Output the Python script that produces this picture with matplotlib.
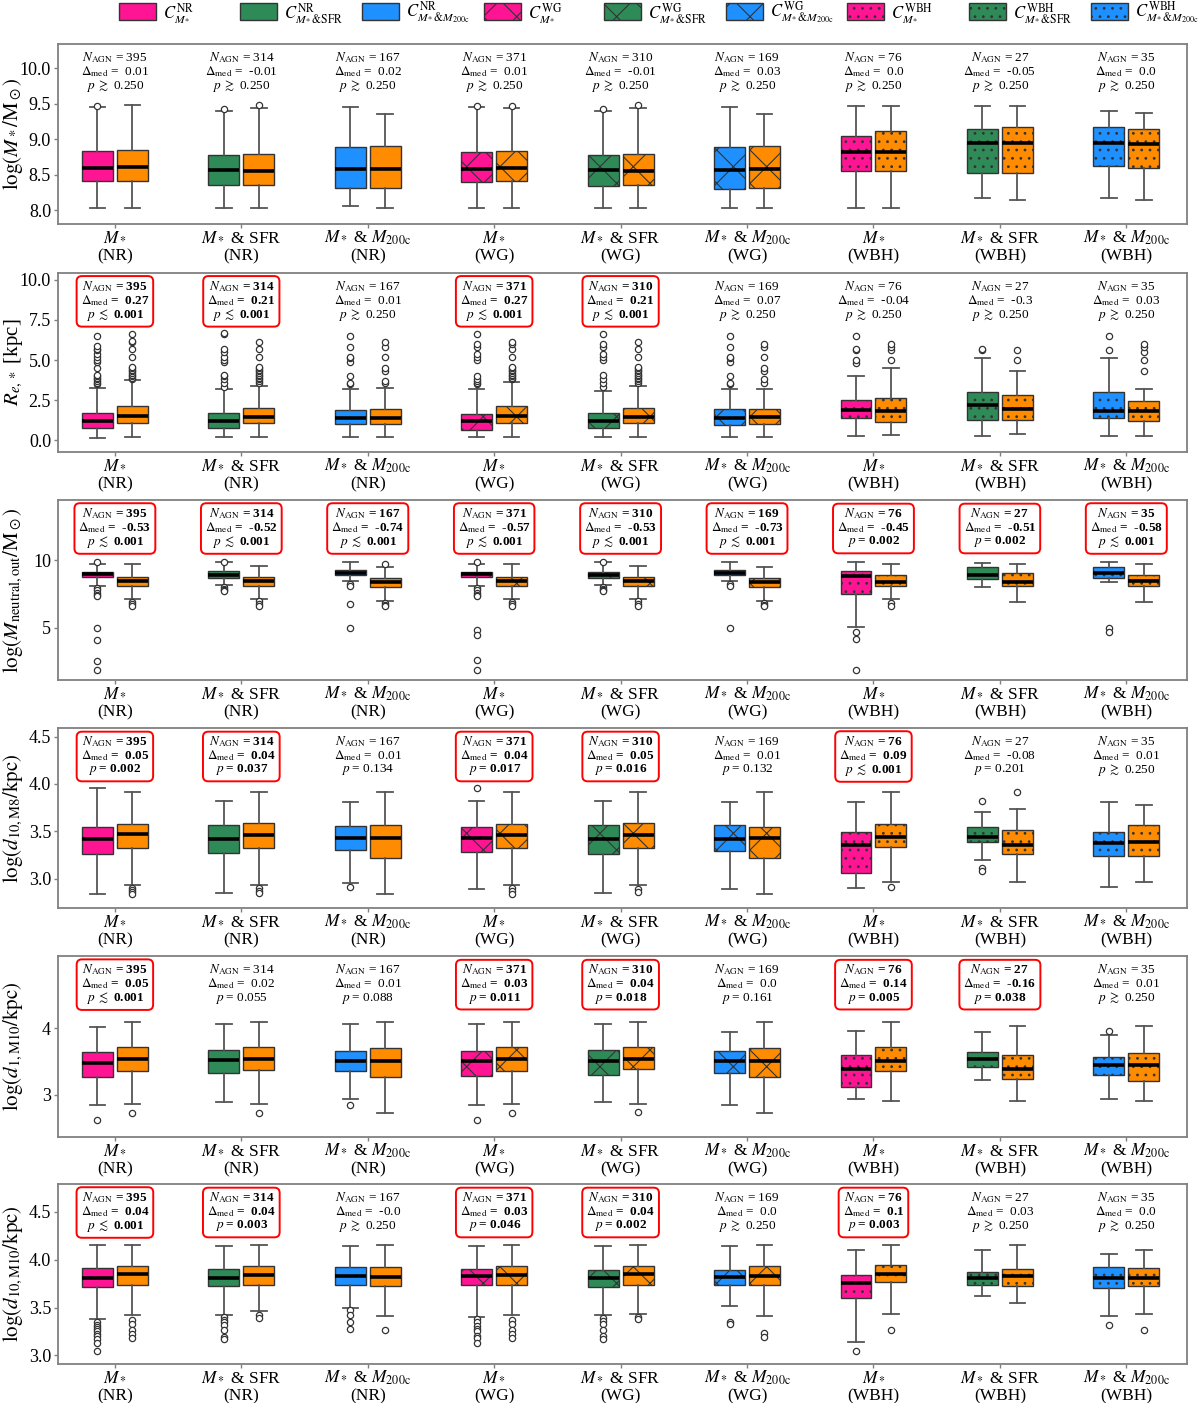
import matplotlib
matplotlib.use("Agg")
import matplotlib.pyplot as plt
import matplotlib.transforms as mtransforms
from matplotlib.patches import Patch

plt.rcParams['font.family'] = ['Liberation Serif', 'DejaVu Serif']
plt.rcParams['mathtext.fontset'] = 'stix'
plt.rcParams['hatch.linewidth'] = 0.8

# ---- categories -------------------------------------------------------------
tick_labels = [r"$M_*$", r"$M_*$ & SFR", r"$M_*$ & $M_{\rm 200c}$"] * 3
sim_labels = ["(NR)", "(NR)", "(NR)", "(WG)", "(WG)", "(WG)", "(WBH)", "(WBH)", "(WBH)"]
legend_labels = [
    r"$C^{\rm NR}_{M_*}$", r"$C^{\rm NR}_{M_*&{\rm SFR}}$", r"$C^{\rm NR}_{M_*&M_{\rm 200c}}$",
    r"$C^{\rm WG}_{M_*}$", r"$C^{\rm WG}_{M_*&{\rm SFR}}$", r"$C^{\rm WG}_{M_*&M_{\rm 200c}}$",
    r"$C^{\rm WBH}_{M_*}$", r"$C^{\rm WBH}_{M_*&{\rm SFR}}$", r"$C^{\rm WBH}_{M_*&M_{\rm 200c}}$",
]
ctrl_colors = ["#FF1493", "#2E8B57", "#1E90FF"] * 3
hatches = ["", "", "", "x", "x", "x", "..", "..", ".."]
agn_color = "#FF8C00"

n_agn = [395, 314, 167, 371, 310, 169, 76, 27, 35]

# ---- panel 1: stellar mass  (whislo, q1, med, q3, whishi) ----------------------
mstar_ctrl = [
    [8.03, 8.41, 8.60, 8.83, 9.45], [8.03, 8.36, 8.57, 8.78, 9.40], [8.06, 8.31, 8.58, 8.89, 9.45],
    [8.03, 8.40, 8.59, 8.82, 9.45], [8.03, 8.35, 8.57, 8.78, 9.40], [8.03, 8.30, 8.57, 8.89, 9.45],
    [8.03, 8.55, 8.82, 9.05, 9.47], [8.18, 8.53, 8.95, 9.15, 9.47], [8.18, 8.62, 8.95, 9.18, 9.40],
]
mstar_agn = [
    [8.03, 8.42, 8.61, 8.85, 9.48], [8.03, 8.36, 8.56, 8.80, 9.44], [8.03, 8.32, 8.59, 8.91, 9.35],
    [8.03, 8.41, 8.60, 8.83, 9.44], [8.03, 8.36, 8.56, 8.80, 9.44], [8.03, 8.32, 8.59, 8.90, 9.35],
    [8.03, 8.55, 8.82, 9.12, 9.47], [8.15, 8.53, 8.95, 9.17, 9.47], [8.15, 8.60, 8.93, 9.15, 9.37],
]
mstar_ctrl_out = [[9.47], [9.43], [], [9.47], [9.43], [], [], [], []]
mstar_agn_out = [[], [9.48], [], [9.47], [9.48], [], [], [], []]
mstar_dmed = ["0.01", "-0.01", "0.02", "0.01", "-0.01", "0.03", "0.0", "-0.05", "0.0"]
mstar_p = [0.25, 0.25, 0.25, 0.25, 0.25, 0.25, 0.25, 0.25, 0.25]

# ---- panel 2: effective radius ---------------------------------------------
re_ctrl = [
    [0.16, 0.76, 1.24, 1.73, 3.27], [0.20, 0.76, 1.24, 1.73, 3.20], [0.20, 1.00, 1.39, 1.89, 3.17],
    [0.20, 0.66, 1.20, 1.67, 3.23], [0.20, 0.76, 1.24, 1.73, 3.05], [0.20, 0.96, 1.37, 1.93, 3.17],
    [0.26, 1.37, 1.87, 2.53, 4.04], [0.26, 1.29, 2.23, 3.03, 5.10], [0.26, 1.37, 1.83, 3.03, 5.10],
]
re_agn = [
    [0.20, 1.06, 1.53, 2.17, 3.78], [0.20, 1.06, 1.47, 2.00, 3.41], [0.20, 1.00, 1.39, 1.93, 3.29],
    [0.20, 1.08, 1.49, 2.13, 3.61], [0.20, 1.06, 1.47, 2.00, 3.41], [0.20, 1.00, 1.45, 1.95, 3.23],
    [0.32, 1.16, 1.85, 2.61, 4.48], [0.42, 1.29, 1.95, 2.81, 4.34], [0.30, 1.22, 1.83, 2.43, 3.21],
]
re_ctrl_out = [
    [3.5, 3.6, 3.7, 3.8, 3.9, 4.0, 4.1, 4.5, 4.9, 5.0, 5.2, 5.4, 5.6, 5.7, 5.9, 6.5],
    [3.3, 3.6, 3.8, 4.0, 4.1, 4.9, 5.0, 5.2, 5.5, 5.7, 6.6, 6.7],
    [3.5, 3.6, 4.0, 4.9, 5.1, 5.2, 5.8, 6.5],
    [3.5, 3.6, 3.7, 3.8, 4.0, 5.0, 5.2, 5.4, 5.8, 6.0, 6.6],
    [3.3, 3.6, 3.8, 4.1, 5.0, 5.2, 5.4, 5.8, 6.0, 6.6],
    [3.5, 3.6, 4.0, 4.9, 5.1, 5.2, 5.8, 6.5],
    [4.8, 5.0, 5.6, 5.7, 6.5],
    [5.6, 5.7],
    [5.6, 6.5],
]
re_agn_out = [
    [3.8, 3.9, 4.0, 4.1, 4.2, 4.3, 4.4, 4.5, 4.6, 5.2, 5.7, 6.1, 6.2, 6.6],
    [3.6, 3.7, 3.8, 3.9, 4.0, 4.1, 4.2, 4.3, 4.4, 4.5, 4.6, 5.2, 5.7, 6.1],
    [3.6, 3.7, 4.3, 4.5, 5.2, 5.8, 6.1],
    [3.8, 3.9, 4.0, 4.1, 4.2, 4.3, 4.4, 4.5, 4.6, 5.2, 5.7, 6.0, 6.1],
    [3.6, 3.7, 3.8, 3.9, 4.0, 4.1, 4.2, 4.3, 4.4, 4.5, 4.6, 5.2, 5.7, 6.1],
    [3.6, 3.8, 4.3, 4.5, 5.2, 5.8, 6.0],
    [5.0, 5.6, 5.8, 6.0],
    [5.0, 5.6],
    [4.3, 5.0, 5.5, 5.8, 6.0],
]
re_dmed = ["0.27", "0.21", "0.01", "0.27", "0.21", "0.07", "-0.04", "-0.3", "0.03"]
re_p = [0.001, 0.001, 0.25, 0.001, 0.001, 0.25, 0.25, 0.25, 0.25]

# ---- panel 3: outflowing neutral gas mass ----------------------------------
mn_ctrl = [
    [8.08, 8.80, 9.00, 9.13, 9.75], [8.15, 8.73, 8.93, 9.18, 9.85], [8.45, 8.90, 9.10, 9.30, 9.90],
    [8.10, 8.80, 9.00, 9.15, 9.75], [8.15, 8.73, 8.95, 9.15, 9.85], [8.45, 8.90, 9.10, 9.30, 9.90],
    [5.03, 7.53, 8.83, 9.20, 9.88], [8.00, 8.63, 8.93, 9.53, 9.83], [8.38, 8.70, 9.08, 9.48, 9.88],
]
mn_agn = [
    [7.13, 8.13, 8.45, 8.78, 9.75], [7.15, 8.13, 8.45, 8.78, 9.58], [6.95, 8.03, 8.38, 8.70, 9.53],
    [7.13, 8.13, 8.45, 8.78, 9.75], [7.15, 8.13, 8.45, 8.78, 9.58], [6.95, 8.03, 8.38, 8.70, 9.53],
    [7.13, 8.13, 8.40, 8.93, 9.75], [6.90, 8.08, 8.40, 9.03, 9.75], [6.90, 8.08, 8.45, 8.90, 9.75],
]
mn_ctrl_out = [
    [9.9, 7.95, 7.8, 7.6, 7.45, 7.33, 5.0, 4.08, 2.53, 1.88],
    [9.9, 8.0, 7.9, 7.8, 7.75],
    [8.25, 8.1, 6.78, 5.0],
    [9.9, 7.95, 7.8, 7.6, 7.45, 7.33, 4.83, 4.46, 2.58, 1.83],
    [9.9, 8.0, 7.9, 7.8, 7.75],
    [8.25, 8.1, 5.0],
    [4.7, 4.13, 1.88],
    [],
    [4.95, 4.65],
]
mn_agn_out = [
    [6.9, 6.75, 6.6], [6.95, 6.75, 6.6], [9.75, 6.8, 6.65, 6.6],
    [6.9, 6.75, 6.6], [6.95, 6.75, 6.6], [6.8, 6.65, 6.6],
    [6.83, 6.58], [], [],
]
mn_dmed = ["-0.53", "-0.52", "-0.74", "-0.57", "-0.53", "-0.73", "-0.45", "-0.51", "-0.58"]
mn_p = [0.001, 0.001, 0.001, 0.001, 0.001, 0.001, 0.002, 0.002, 0.001]

# ---- panel 4: d_10,M8 ---------------------------------------------------------
d8_ctrl = [
    [2.84, 3.26, 3.42, 3.54, 3.96], [2.85, 3.27, 3.42, 3.57, 3.82], [2.95, 3.30, 3.43, 3.56, 3.81],
    [2.89, 3.28, 3.43, 3.54, 3.82], [2.85, 3.26, 3.42, 3.57, 3.82], [2.89, 3.29, 3.42, 3.57, 3.81],
    [2.90, 3.06, 3.35, 3.49, 3.81], [3.20, 3.39, 3.44, 3.54, 3.70], [2.91, 3.24, 3.38, 3.49, 3.81],
]
d8_agn = [
    [2.93, 3.32, 3.47, 3.58, 3.91], [2.93, 3.32, 3.46, 3.59, 3.91], [2.84, 3.22, 3.43, 3.57, 3.91],
    [2.93, 3.32, 3.46, 3.58, 3.91], [2.93, 3.32, 3.46, 3.59, 3.91], [2.84, 3.22, 3.43, 3.55, 3.91],
    [2.96, 3.33, 3.44, 3.58, 3.91], [2.96, 3.26, 3.36, 3.51, 3.73], [2.96, 3.24, 3.39, 3.57, 3.78],
]
d8_ctrl_out = [[], [], [2.91], [3.96], [], [], [], [3.82, 3.11, 3.08], []]
d8_agn_out = [
    [2.90, 2.88, 2.86, 2.84], [2.90, 2.87, 2.85], [],
    [2.90, 2.87, 2.84], [2.89, 2.86], [],
    [2.91], [3.91], [],
]
d8_dmed = ["0.05", "0.04", "0.01", "0.04", "0.05", "0.01", "0.09", "-0.08", "0.01"]
d8_p = [0.002, 0.037, 0.134, 0.017, 0.016, 0.132, 0.001, 0.201, 0.25]

# ---- panel 5: d_1,M10 ---------------------------------------------------------
d1_ctrl = [
    [2.84, 3.27, 3.48, 3.64, 4.02], [2.89, 3.33, 3.52, 3.67, 4.06], [2.93, 3.36, 3.51, 3.65, 4.06],
    [2.84, 3.28, 3.51, 3.65, 4.06], [2.89, 3.30, 3.51, 3.67, 4.06], [2.84, 3.33, 3.51, 3.65, 3.95],
    [2.93, 3.12, 3.39, 3.60, 3.96], [3.22, 3.41, 3.53, 3.64, 3.95], [2.94, 3.30, 3.44, 3.56, 3.90],
]
d1_agn = [
    [2.86, 3.36, 3.54, 3.71, 4.09], [2.86, 3.37, 3.54, 3.72, 4.09], [2.72, 3.27, 3.51, 3.70, 4.09],
    [2.86, 3.35, 3.54, 3.71, 4.09], [2.86, 3.38, 3.54, 3.72, 4.09], [2.72, 3.27, 3.51, 3.70, 4.09],
    [2.90, 3.36, 3.51, 3.72, 4.09], [2.90, 3.23, 3.38, 3.60, 4.04], [2.90, 3.20, 3.45, 3.63, 4.04],
]
d1_ctrl_out = [[2.62], [], [2.84], [2.62], [], [], [], [], [3.96]]
d1_agn_out = [[2.72], [2.72], [], [2.72], [2.73], [], [], [], []]
d1_dmed = ["0.05", "0.02", "0.01", "0.03", "0.04", "0.0", "0.14", "-0.16", "0.01"]
d1_p = [0.001, 0.055, 0.088, 0.011, 0.018, 0.161, 0.005, 0.038, 0.25]

# ---- panel 6: d_10,M10 --------------------------------------------------------
d10_ctrl = [
    [3.38, 3.71, 3.81, 3.91, 4.15], [3.42, 3.72, 3.81, 3.90, 4.14], [3.50, 3.73, 3.83, 3.92, 4.14],
    [3.40, 3.73, 3.83, 3.90, 4.14], [3.42, 3.71, 3.81, 3.89, 4.14], [3.52, 3.74, 3.82, 3.89, 4.14],
    [3.14, 3.60, 3.76, 3.84, 4.10], [3.62, 3.74, 3.81, 3.87, 4.10], [3.41, 3.70, 3.81, 3.92, 4.06],
]
d10_agn = [
    [3.42, 3.74, 3.85, 3.93, 4.15], [3.46, 3.74, 3.84, 3.93, 4.15], [3.41, 3.72, 3.82, 3.92, 4.15],
    [3.42, 3.74, 3.84, 3.93, 4.15], [3.43, 3.74, 3.85, 3.93, 4.15], [3.41, 3.73, 3.83, 3.93, 4.15],
    [3.43, 3.77, 3.85, 3.94, 4.15], [3.55, 3.72, 3.83, 3.90, 4.15], [3.43, 3.72, 3.81, 3.91, 4.10],
]
d10_ctrl_out = [
    [3.35, 3.32, 3.30, 3.28, 3.25, 3.22, 3.20, 3.17, 3.13, 3.05],
    [3.40, 3.37, 3.35, 3.32, 3.27, 3.19, 3.17],
    [3.47, 3.42, 3.35, 3.28],
    [3.38, 3.35, 3.31, 3.28, 3.25, 3.20, 3.18, 3.13],
    [3.39, 3.36, 3.33, 3.27, 3.20, 3.17],
    [3.35, 3.33],
    [3.05], [], [3.32],
]
d10_agn_out = [
    [3.37, 3.33, 3.27, 3.22, 3.18], [3.42, 3.39], [3.27],
    [3.37, 3.33, 3.27, 3.22, 3.18], [3.40, 3.38], [3.23, 3.19],
    [3.26], [], [3.26],
]
d10_dmed = ["0.04", "0.04", "-0.0", "0.03", "0.04", "0.0", "0.1", "0.03", "0.0"]
d10_p = [0.001, 0.003, 0.25, 0.046, 0.002, 0.25, 0.003, 0.25, 0.25]

panels = [
    (mstar_ctrl, mstar_agn, mstar_ctrl_out, mstar_agn_out, mstar_dmed, mstar_p,
     r"$\log(M_*/{\rm M}_\odot)$", (7.81, 10.34), [8.0, 8.5, 9.0, 9.5, 10.0], "{:.1f}"),
    (re_ctrl, re_agn, re_ctrl_out, re_agn_out, re_dmed, re_p,
     r"$R_{e,*}$ [kpc]", (-0.72, 10.42), [0.0, 2.5, 5.0, 7.5, 10.0], "{:.1f}"),
    (mn_ctrl, mn_agn, mn_ctrl_out, mn_agn_out, mn_dmed, mn_p,
     r"$\log(M_{\rm neutral,out}/{\rm M}_\odot)$", (1.1, 14.5), [5, 10], "{:.0f}"),
    (d8_ctrl, d8_agn, d8_ctrl_out, d8_agn_out, d8_dmed, d8_p,
     r"$\log(d_{\rm 10,M8}/{\rm kpc})$", (2.69, 4.59), [3.0, 3.5, 4.0, 4.5], "{:.1f}"),
    (d1_ctrl, d1_agn, d1_ctrl_out, d1_agn_out, d1_dmed, d1_p,
     r"$\log(d_{\rm 1,M10}/{\rm kpc})$", (2.36, 5.09), [3, 4], "{:.0f}"),
    (d10_ctrl, d10_agn, d10_ctrl_out, d10_agn_out, d10_dmed, d10_p,
     r"$\log(d_{\rm 10,M10}/{\rm kpc})$", (2.91, 4.79), [3.0, 3.5, 4.0, 4.5], "{:.1f}"),
]


def p_string(p):
    if p >= 0.25:
        return r"$p$ $\gtrsim$ 0.250"
    if p <= 0.001:
        return r"$p$ $\lesssim$ 0.001"
    return r"$p$ = " + f"{p:.3f}"


def stats_list(rows, outs):
    return [dict(whislo=r[0], q1=r[1], med=r[2], q3=r[3], whishi=r[4], fliers=o)
            for r, o in zip(rows, outs)]


fig = plt.figure(figsize=(12, 14.03), dpi=100)
H = 1403.0
axes_px = [(44, 224), (273, 452), (500, 680), (728, 908), (956, 1137), (1184, 1364)]

box_w = 0.245
offset = 0.138
edge = "#333333"

for (ctrl, agn, ctrl_out, agn_out, dmed, pvals, ylabel, ylim, yticks, yfmt), (top, bot) in zip(panels, axes_px):
    ax = fig.add_axes([58 / 1200, 1 - bot / H, (1187 - 58) / 1200, (bot - top) / H])
    pos = list(range(9))

    common = dict(widths=box_w, patch_artist=True, manage_ticks=False, capwidths=box_w * 0.5,
                  boxprops=dict(edgecolor=edge, linewidth=1.0),
                  medianprops=dict(color="black", linewidth=2.6),
                  whiskerprops=dict(color="#555555", linewidth=1.3),
                  capprops=dict(color="#555555", linewidth=1.3),
                  flierprops=dict(marker="o", markerfacecolor="white", markeredgecolor=edge,
                                  markersize=4.5, markeredgewidth=0.9))
    bc = ax.bxp(stats_list(ctrl, ctrl_out), positions=[p - offset for p in pos], **common)
    ba = ax.bxp(stats_list(agn, agn_out), positions=[p + offset for p in pos], **common)
    for i in range(9):
        bc["boxes"][i].set_facecolor(ctrl_colors[i])
        bc["boxes"][i].set_hatch(hatches[i])
        ba["boxes"][i].set_facecolor(agn_color)
        ba["boxes"][i].set_hatch(hatches[i])

    # stats annotations
    trans = mtransforms.blended_transform_factory(ax.transData, ax.transAxes)
    for i in range(9):
        sig = pvals[i] < 0.05
        txt = (r"$N_{\rm AGN}$ = " + str(n_agn[i]) + "\n"
               + r"$\Delta_{\rm med}$ =  " + dmed[i] + "\n" + p_string(pvals[i]))
        kw = dict(transform=trans, ha="center", va="center", fontsize=9.5,
                  linespacing=0.92, multialignment="center")
        if sig:
            kw["fontweight"] = "bold"
            kw["bbox"] = dict(boxstyle="round,pad=0.3,rounding_size=0.4", facecolor="white",
                              edgecolor="red", linewidth=1.4)
        ax.text(pos[i], 0.845, txt, **kw)

    # x labels: matching variables on the tick, simulation name on a second line
    ax.set_xlim(-0.45, 8.48)
    ax.set_ylim(*ylim)
    ax.set_xticks(pos)
    ax.set_xticklabels(tick_labels, fontsize=12.5)
    for i in range(9):
        ax.annotate(sim_labels[i], xy=(pos[i], 0), xycoords=trans, xytext=(0, -23.5),
                    textcoords="offset points", ha="center", va="center", fontsize=12.5)

    ax.set_yticks(yticks)
    ax.set_yticklabels([yfmt.format(t) for t in yticks], fontsize=13)
    ax.set_ylabel(ylabel, fontsize=15)
    ax.yaxis.set_label_coords(-0.029, 0.5)
    ax.tick_params(color="#808080", length=3, width=1.0, pad=2)
    ax.tick_params(axis="x", pad=0.5)
    for s in ax.spines.values():
        s.set_color("#808080")
        s.set_linewidth(1.3)

# legend: one entry per control sample, spread evenly along the top
handles = [Patch(facecolor=c, edgecolor=edge, hatch=h) for c, h in zip(ctrl_colors, hatches)]
legend_x = [119, 240, 362, 484, 604, 726, 847, 969, 1091]
for x, h, lab in zip(legend_x, handles, legend_labels):
    fig.legend([h], [lab], loc="center left", bbox_to_anchor=(x / 1200, 1 - 13 / H),
               frameon=False, fontsize=12, handlelength=2.2, handleheight=1.2,
               handletextpad=0.45, borderpad=0, borderaxespad=0)

fig.savefig("out.png", dpi=100)
